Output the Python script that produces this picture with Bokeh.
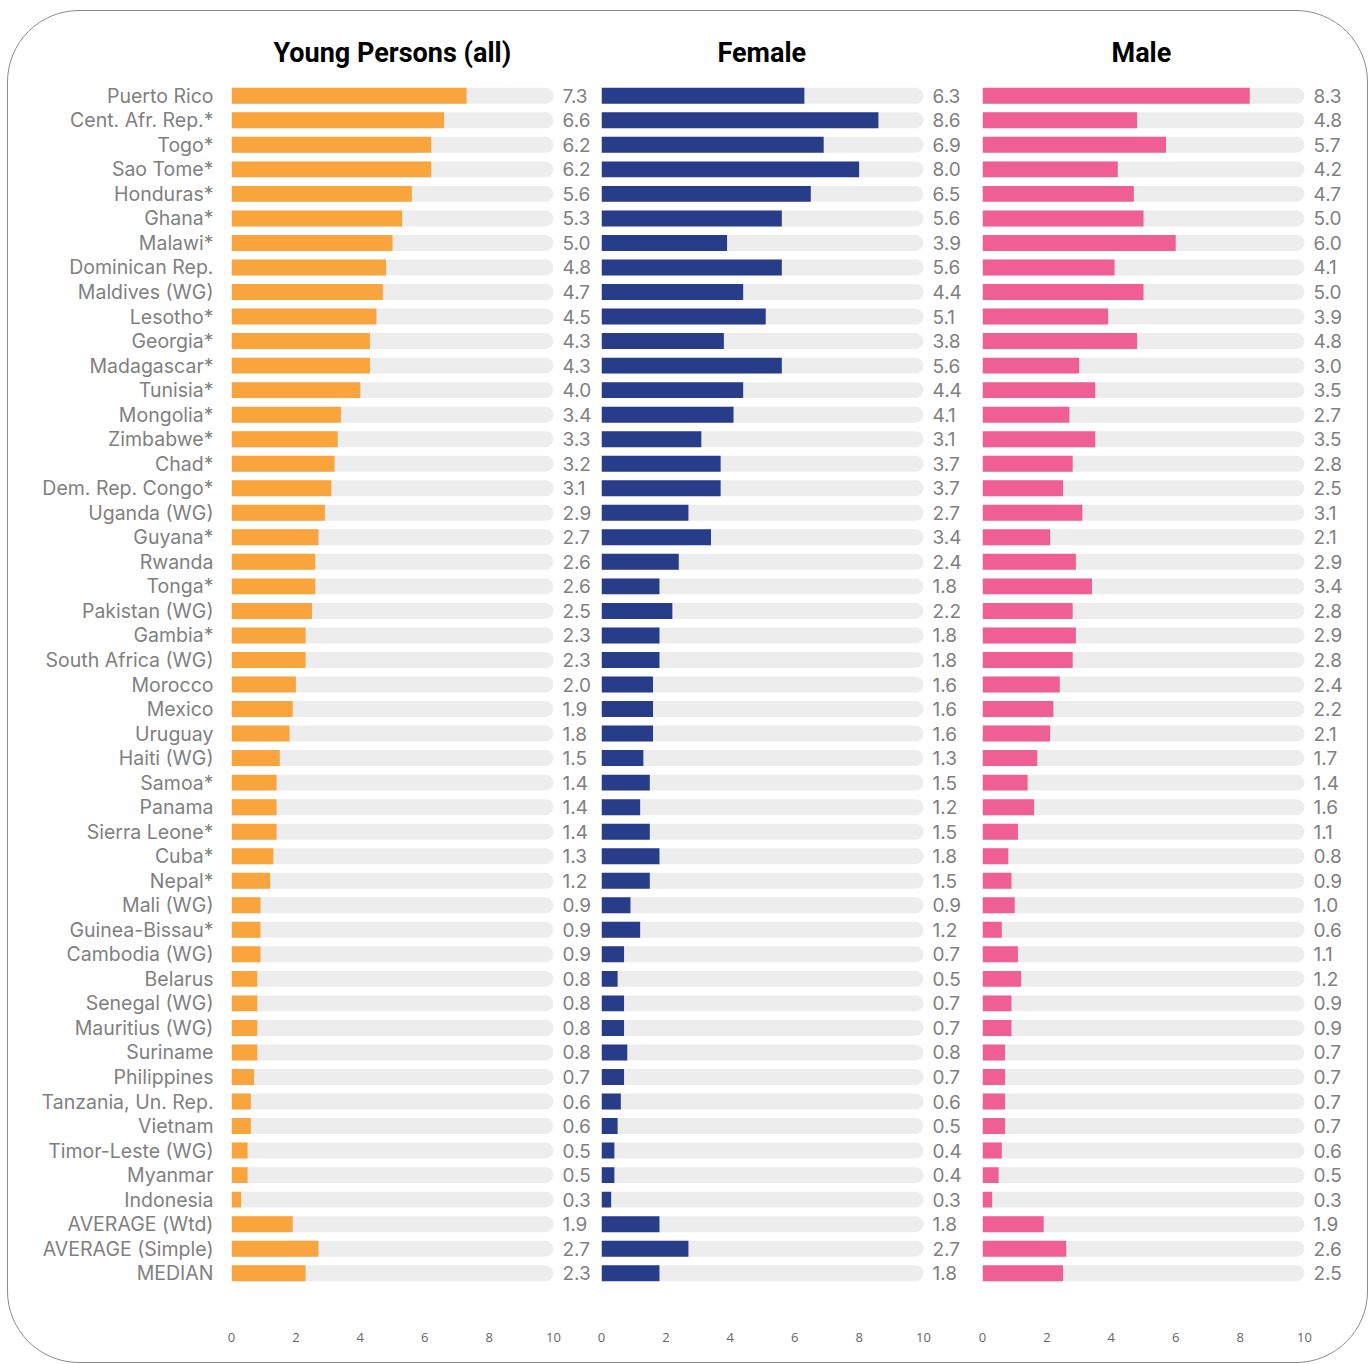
from bokeh.plotting import figure
from bokeh.models import ColumnDataSource, FactorRange, Range1d, FixedTicker, Spacer
from bokeh.layouts import row, column
from bokeh.embed import file_html
from bokeh.resources import INLINE
from bokeh.core.properties import value

countries = [
    "Puerto Rico", "Cent. Afr. Rep.*", "Togo*", "Sao Tome*", "Honduras*", "Ghana*",
    "Malawi*", "Dominican Rep.", "Maldives (WG)", "Lesotho*", "Georgia*", "Madagascar*",
    "Tunisia*", "Mongolia*", "Zimbabwe*", "Chad*", "Dem. Rep. Congo*", "Uganda (WG)",
    "Guyana*", "Rwanda", "Tonga*", "Pakistan (WG)", "Gambia*", "South Africa (WG)",
    "Morocco", "Mexico", "Uruguay", "Haiti (WG)", "Samoa*", "Panama", "Sierra Leone*",
    "Cuba*", "Nepal*", "Mali (WG)", "Guinea-Bissau*", "Cambodia (WG)", "Belarus",
    "Senegal (WG)", "Mauritius (WG)", "Suriname", "Philippines", "Tanzania, Un. Rep.",
    "Vietnam", "Timor-Leste (WG)", "Myanmar", "Indonesia", "AVERAGE (Wtd)",
    "AVERAGE (Simple)", "MEDIAN",
]
young_all = [
    7.3, 6.6, 6.2, 6.2, 5.6, 5.3, 5.0, 4.8, 4.7, 4.5, 4.3, 4.3, 4.0, 3.4, 3.3, 3.2, 3.1,
    2.9, 2.7, 2.6, 2.6, 2.5, 2.3, 2.3, 2.0, 1.9, 1.8, 1.5, 1.4, 1.4, 1.4, 1.3, 1.2, 0.9,
    0.9, 0.9, 0.8, 0.8, 0.8, 0.8, 0.7, 0.6, 0.6, 0.5, 0.5, 0.3, 1.9, 2.7, 2.3,
]
female = [
    6.3, 8.6, 6.9, 8.0, 6.5, 5.6, 3.9, 5.6, 4.4, 5.1, 3.8, 5.6, 4.4, 4.1, 3.1, 3.7, 3.7,
    2.7, 3.4, 2.4, 1.8, 2.2, 1.8, 1.8, 1.6, 1.6, 1.6, 1.3, 1.5, 1.2, 1.5, 1.8, 1.5, 0.9,
    1.2, 0.7, 0.5, 0.7, 0.7, 0.8, 0.7, 0.6, 0.5, 0.4, 0.4, 0.3, 1.8, 2.7, 1.8,
]
male = [
    8.3, 4.8, 5.7, 4.2, 4.7, 5.0, 6.0, 4.1, 5.0, 3.9, 4.8, 3.0, 3.5, 2.7, 3.5, 2.8, 2.5,
    3.1, 2.1, 2.9, 3.4, 2.8, 2.9, 2.8, 2.4, 2.2, 2.1, 1.7, 1.4, 1.6, 1.1, 0.8, 0.9, 1.0,
    0.6, 1.1, 1.2, 0.9, 0.9, 0.7, 0.7, 0.7, 0.7, 0.6, 0.5, 0.3, 1.9, 2.6, 2.5,
]
panel_titles = ["Young Persons (all)", "Female", "Male"]
x_ticks = [0, 2, 4, 6, 8, 10]
axis_max = 10

PX_PER_UNIT = 32.2
FRAME_H = 1202


def make_panel(vals, color, title, title_offset, frame_w, min_left, show_y):
    src = ColumnDataSource(dict(
        y=countries,
        v=vals,
        label=["%.1f" % v for v in vals],
    ))
    p = figure(
        y_range=FactorRange(factors=countries[::-1]),
        x_range=Range1d(0, frame_w / PX_PER_UNIT),
        frame_width=frame_w, frame_height=FRAME_H,
        min_border_left=min_left, min_border_right=0,
        min_border_top=72, min_border_bottom=77,
        output_backend="svg", toolbar_location=None,
        title=title,
    )
    p.title.align = "left"
    p.title.offset = title_offset
    p.title.standoff = 29
    p.title.text_font = "Roboto"
    p.title.text_font_size = "27px"
    p.title.text_font_style = "bold"
    p.title.text_color = "#000000"

    p.hbar(y="y", left=0, right=axis_max, height=0.65, source=src,
           fill_color="#EDEDED", line_color=None, border_radius=(0, 8, 8, 0))
    p.hbar(y="y", left=0, right="v", height=0.65, source=src,
           fill_color=color, line_color=None)
    p.text(x=axis_max, y="y", text="label", source=src, x_offset=9,
           text_baseline="middle", text_align="left",
           text_font=value("Inter"), text_font_size="19px", text_color="#808080")

    p.xgrid.visible = False
    p.ygrid.visible = False
    p.outline_line_color = None
    p.background_fill_color = None
    p.border_fill_color = None

    xa = p.xaxis[0]
    xa.ticker = FixedTicker(ticks=x_ticks)
    xa.axis_line_color = None
    xa.major_tick_line_color = None
    xa.minor_tick_line_color = None
    xa.major_label_standoff = 41
    xa.major_label_text_font = "Open Sans"
    xa.major_label_text_font_size = "13px"
    xa.major_label_text_color = "#666666"

    ya = p.yaxis[0]
    if show_y:
        ya.axis_line_color = None
        ya.major_tick_line_color = None
        ya.minor_tick_line_color = None
        ya.major_tick_out = 0
        ya.major_label_standoff = 18
        ya.major_label_text_font = "Inter"
        ya.major_label_text_font_size = "19.5px"
        ya.major_label_text_color = "#808080"
    else:
        ya.visible = False
    return p


p1 = make_panel(young_all, "#F9A43D", panel_titles[0], 42, 364, 223, True)
p2 = make_panel(female, "#283D89", panel_titles[1], 116, 375, 6, False)
p3 = make_panel(male, "#EF5F94", panel_titles[2], 129, 385, 6, False)

framed = row(p1, p2, p3, styles={
    "border": "1px solid #8c8c8c",
    "border-radius": "72px",
})

layout = column(Spacer(height=10), row(Spacer(width=7), framed))

open("out.html", "w").write(file_html(layout, INLINE))
